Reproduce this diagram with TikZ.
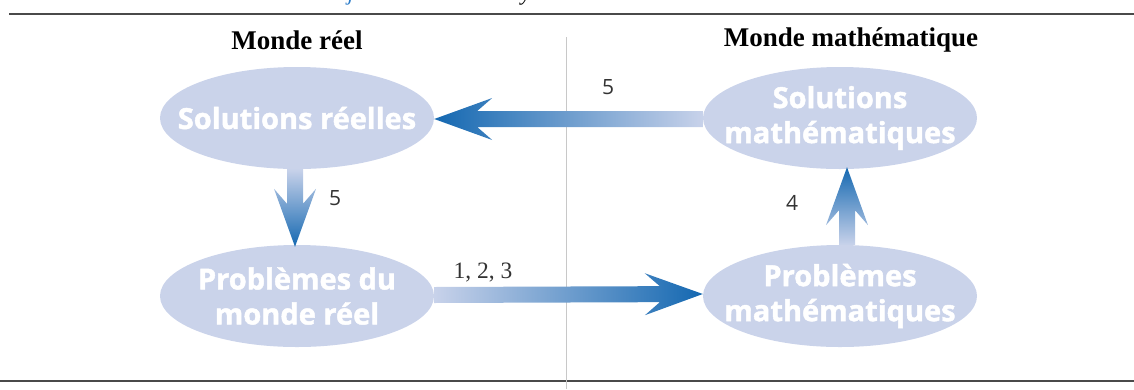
\documentclass[tikz,border=0pt]{standalone}
\usepackage{fontspec}
\setmainfont{Liberation Serif}
\newfontfamily\ellfont{Open Sans}[BoldFeatures={FakeBold=1.6}]
\usetikzlibrary{shapes.geometric,calc}
\definecolor{ellfill}{HTML}{CAD3EA}
\definecolor{arrdark}{HTML}{1468B1}
\definecolor{arrlight}{HTML}{C8D2EA}
\definecolor{rulegray}{HTML}{4A4A4A}
\definecolor{divgray}{HTML}{C8C8C8}
\definecolor{numgray}{HTML}{333333}
\definecolor{capblue}{HTML}{2A7BC8}
\tikzset{
  ellbox/.style={shape=ellipse, fill=ellfill, minimum width=274, minimum height=102, inner sep=0pt},
  elltext/.style={text=white, align=center, font=\ellfont\bfseries\fontsize{29}{35}\selectfont, inner sep=0pt},
  heading/.style={font=\bfseries\fontsize{27}{30}\selectfont, inner sep=0pt},
  numsans/.style={text=numgray, font=\ellfont\fontsize{21}{24}\selectfont, inner sep=0pt},
  numserif/.style={text=numgray, font=\fontsize{23.5}{26}\selectfont, inner sep=0pt},
  capfrag/.style={font=\itshape\fontsize{22}{24}\selectfont, inner sep=0pt, anchor=base},
}
\newcommand\fatarrow[3]{%
  \path (#1) coordinate (A) (#2) coordinate (B)
    ($(B)!43pt!(A)$) coordinate (N)
    ($(B)!58pt!(A)$) coordinate (W);
  \shade[#3] ($(A)!8pt!90:(B)$) -- ($(N)!8pt!90:(B)$) -- ($(W)!21pt!90:(B)$)
    -- (B) -- ($(W)!21pt!-90:(B)$) -- ($(N)!8pt!-90:(B)$) -- ($(A)!8pt!-90:(B)$) -- cycle;
}
\begin{document}
\begin{tikzpicture}[x=1pt,y=-1pt]
\useasboundingbox (0,0) rectangle (1134,389);
% clipped caption fragments above the top rule
\begin{scope}
  \clip (0,0) rectangle (1134,7);
  \node[capfrag, text=capblue] (f1) at (351,0) {j};
  \node[capfrag, text=black] (f2) at (526,0) {y};
\end{scope}
% rules
\coordinate (tl) at (9,14); \coordinate (tr) at (1134,14);
\coordinate (bl) at (0,381); \coordinate (br) at (1134,381);
\coordinate (dt) at (566,37); \coordinate (db) at (566,389);
\draw[rulegray, line width=1.6pt] (tl) -- (tr);
\draw[rulegray, line width=1.6pt] (bl) -- (br);
\draw[divgray, line width=1pt] (dt) -- (db);
% headings
\node[heading] (h1) at (297,40) {Monde réel};
\node[heading] (h2) at (851,40) {Monde mathématique};
% ellipses
\node[ellbox] (solr) at (297,118) {};
\node[ellbox] (solm) at (840,118) {};
\node[ellbox] (probr) at (297,296) {};
\node[ellbox] (probm) at (840,296) {};
\node[elltext] (tsolr) at (solr) {Solutions réelles};
\node[elltext] (tsolm) at (solm) {Solutions\\mathématiques};
\node[elltext] (tprobr) at (probr) {Problèmes du\\monde réel};
\node[elltext] (tprobm) at (probm) {Problèmes\\mathématiques};
% arrows
\fatarrow{[yshift=-1]solm.west}{[yshift=-1]solr.east}{left color=arrdark, right color=arrlight}
\fatarrow{[xshift=-2]solr.south}{[xshift=-2,yshift=-2]probr.north}{top color=arrlight, bottom color=arrdark}
\fatarrow{[xshift=7]probm.north}{[xshift=7,yshift=2]solm.south}{top color=arrdark, bottom color=arrlight}
\fatarrow{[yshift=1]probr.east}{[yshift=2]probm.west}{left color=arrlight, right color=arrdark}
% labels
\node[numsans] (l5a) at (608,87) {5};
\node[numsans] (l5b) at (335,198) {5};
\node[numsans] (l4) at (792,203) {4};
\node[numserif] (l123) at (483,273) {1, 2, 3};
\end{tikzpicture}
\end{document}
